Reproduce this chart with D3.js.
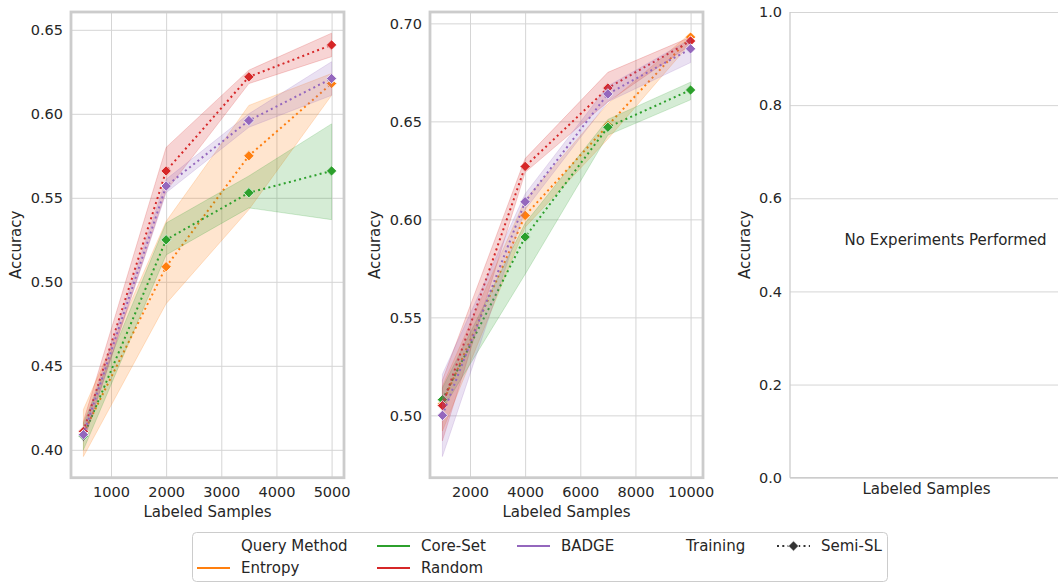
<!DOCTYPE html>
<head>
  <meta charset="utf-8">
  <script src="https://d3js.org/d3.v7.min.js"></script>
  <style>
    body { margin: 0; background: #fff; }
    text { font-family: "DejaVu Sans", sans-serif; fill: #262626; }
  </style>
</head>
<body>
<script>
// query methods, in hue order
var methods = ["Entropy", "Core-Set", "Random", "BADGE"];
var methodColors = ["#ff7f0e", "#2ca02c", "#d62728", "#9467bd"];

// left panel
var samplesA = [500, 2000, 3500, 5000];
var meanA = [
  [0.410, 0.509, 0.575, 0.618],
  [0.408, 0.525, 0.553, 0.566],
  [0.411, 0.566, 0.622, 0.641],
  [0.409, 0.557, 0.596, 0.621]
];
var lowA = [
  [0.396, 0.487, 0.543, 0.611],
  [0.400, 0.516, 0.544, 0.537],
  [0.405, 0.554, 0.618, 0.634],
  [0.405, 0.553, 0.592, 0.611]
];
var highA = [
  [0.424, 0.536, 0.605, 0.624],
  [0.416, 0.535, 0.563, 0.594],
  [0.417, 0.580, 0.626, 0.648],
  [0.413, 0.561, 0.600, 0.631]
];
var xTicksA = [1000, 2000, 3000, 4000, 5000];
var yTicksA = [0.40, 0.45, 0.50, 0.55, 0.60, 0.65];

// middle panel
var samplesB = [1000, 4000, 7000, 10000];
var meanB = [
  [0.506, 0.602, 0.648, 0.693],
  [0.508, 0.591, 0.647, 0.666],
  [0.505, 0.627, 0.667, 0.691],
  [0.500, 0.609, 0.664, 0.687]
];
var lowB = [
  [0.492, 0.596, 0.641, 0.690],
  [0.503, 0.572, 0.643, 0.661],
  [0.487, 0.624, 0.660, 0.689],
  [0.479, 0.605, 0.660, 0.680]
];
var highB = [
  [0.515, 0.610, 0.659, 0.695],
  [0.514, 0.598, 0.651, 0.670],
  [0.518, 0.631, 0.675, 0.693],
  [0.521, 0.613, 0.668, 0.692]
];
var xTicksB = [2000, 4000, 6000, 8000, 10000];
var yTicksB = [0.50, 0.55, 0.60, 0.65, 0.70];

// right panel (empty)
var yTicksC = [0.0, 0.2, 0.4, 0.6, 0.8, 1.0];
var emptyText = "No Experiments Performed";

var outerWidth = 1058, outerHeight = 582;
var plotTop = 12, plotBottom = 477.7, panelWidth = 273;
var gridColor = "#d5d5d5", spineColor = "#cccccc";

var svg = d3.select("body").append("svg")
  .attr("width", outerWidth)
  .attr("height", outerHeight);

svg.append("rect").attr("width", outerWidth).attr("height", outerHeight).attr("fill", "#fff");

// pad a domain by 5% on each side like matplotlib
function padded(values) {
  var ext = d3.extent(values), pad = (ext[1] - ext[0]) * 0.05;
  return [ext[0] - pad, ext[1] + pad];
}

var diamond = "M0,-5.2L5.2,0L0,5.2L-5.2,0Z";

function drawPanel(left, xs, means, lows, highs, xTicks, yTicks) {
  var g = svg.append("g").attr("transform", "translate(" + left + ",0)");
  var h = plotBottom - plotTop;

  var x = d3.scaleLinear().domain(padded(xs)).range([0, panelWidth]);
  var y = d3.scaleLinear().domain(padded(d3.merge(lows.concat(highs)))).range([plotBottom, plotTop]);

  // grid + tick labels
  var xAxis = g.append("g").attr("transform", "translate(0," + plotBottom + ")")
    .call(d3.axisBottom(x).tickValues(xTicks).tickSize(-h).tickPadding(9).tickFormat(d3.format("d")));
  var yAxis = g.append("g")
    .call(d3.axisLeft(y).tickValues(yTicks).tickSize(-panelWidth).tickPadding(8).tickFormat(d3.format(".2f")));
  [xAxis, yAxis].forEach(function(a) {
    a.select(".domain").remove();
    a.selectAll("line").attr("stroke", gridColor).attr("stroke-width", 1);
    a.selectAll("text").style("font-size", "14.5px").attr("fill", "#262626");
  });

  var line = d3.line().x(function(d) { return x(d[0]); }).y(function(d) { return y(d[1]); });
  var area = d3.area()
    .x(function(d) { return x(d[0]); })
    .y0(function(d) { return y(d[1]); })
    .y1(function(d) { return y(d[2]); });

  methods.forEach(function(m, i) {
    var pts = xs.map(function(s, j) { return [s, means[i][j]]; });
    var band = xs.map(function(s, j) { return [s, lows[i][j], highs[i][j]]; });
    g.append("path").datum(pts).attr("d", line)
      .attr("fill", "none").attr("stroke", methodColors[i])
      .attr("stroke-width", 2).attr("stroke-dasharray", "2,3.3");
    g.selectAll(null).data(pts).enter().append("path")
      .attr("d", diamond)
      .attr("transform", function(d) { return "translate(" + x(d[0]) + "," + y(d[1]) + ")"; })
      .attr("fill", methodColors[i]).attr("stroke", "#fff").attr("stroke-width", 1);
    g.append("path").datum(band).attr("d", area)
      .attr("fill", methodColors[i]).attr("fill-opacity", 0.2)
      .attr("stroke", methodColors[i]).attr("stroke-opacity", 0.2).attr("stroke-width", 1);
  });

  // spines box
  g.append("rect").attr("x", 0).attr("y", plotTop).attr("width", panelWidth).attr("height", h)
    .attr("fill", "none").attr("stroke", spineColor).attr("stroke-width", 2.8);

  g.append("text").attr("x", panelWidth / 2).attr("y", 517)
    .attr("text-anchor", "middle").style("font-size", "15px").text("Labeled Samples");
  g.append("text").attr("transform", "translate(-55," + (plotTop + h / 2) + ") rotate(-90)")
    .attr("text-anchor", "middle").attr("dominant-baseline", "central")
    .style("font-size", "15px").text("Accuracy");
}

drawPanel(71, samplesA, meanA, lowA, highA, xTicksA, yTicksA);
drawPanel(430, samplesB, meanB, lowB, highB, xTicksB, yTicksB);

// right panel without experiments
(function() {
  var left = 790, h = plotBottom - plotTop;
  var g = svg.append("g").attr("transform", "translate(" + left + ",0)");
  var x = d3.scaleLinear().domain([0, 1]).range([0, panelWidth]);
  var y = d3.scaleLinear().domain([0, 1]).range([plotBottom, plotTop]);
  var yAxis = g.append("g")
    .call(d3.axisLeft(y).tickValues(yTicksC).tickSize(-panelWidth).tickPadding(8).tickFormat(d3.format(".1f")));
  yAxis.select(".domain").remove();
  yAxis.selectAll("line").attr("stroke", gridColor).attr("stroke-width", 1);
  yAxis.selectAll("text").style("font-size", "14.5px").attr("fill", "#262626");

  g.append("line").attr("x1", 0).attr("x2", 0).attr("y1", plotTop).attr("y2", plotBottom)
    .attr("stroke", spineColor).attr("stroke-width", 1.3);
  g.append("line").attr("x1", 0).attr("x2", panelWidth).attr("y1", plotBottom).attr("y2", plotBottom)
    .attr("stroke", spineColor).attr("stroke-width", 1.3);

  g.append("text").attr("x", x(0.2)).attr("y", y(0.5))
    .style("font-size", "15px").text(emptyText);
  g.append("text").attr("x", panelWidth / 2).attr("y", 494)
    .attr("text-anchor", "middle").style("font-size", "15px").text("Labeled Samples");
  g.append("text").attr("transform", "translate(-45.5," + (plotTop + h / 2) + ") rotate(-90)")
    .attr("text-anchor", "middle").attr("dominant-baseline", "central")
    .style("font-size", "15px").text("Accuracy");
})();

// legend
var legendItems = [
  { label: "Query Method", col: 0, row: 0 },
  { label: methods[0], col: 0, row: 1, color: methodColors[0] },
  { label: methods[1], col: 1, row: 0, color: methodColors[1] },
  { label: methods[2], col: 1, row: 1, color: methodColors[2] },
  { label: methods[3], col: 2, row: 0, color: methodColors[3] },
  { label: "Training", col: 3, row: 0 },
  { label: "Semi-SL", col: 4, row: 0, color: "#333333", marker: true }
];
var colX = [241, 421, 561, 686, 821];
var rowY = [546, 568];

var legend = svg.append("g");
legend.append("rect").attr("x", 192.5).attr("y", 532.5).attr("width", 695).attr("height", 49)
  .attr("rx", 4).attr("fill", "#fff").attr("fill-opacity", 0.8)
  .attr("stroke", "#cccccc").attr("stroke-width", 1);

legendItems.forEach(function(it) {
  var tx = colX[it.col], ty = rowY[it.row];
  if (it.color && !it.marker) {
    legend.append("line").attr("x1", tx - 44).attr("x2", tx - 11).attr("y1", ty).attr("y2", ty)
      .attr("stroke", it.color).attr("stroke-width", 2);
  }
  if (it.marker) {
    legend.append("line").attr("x1", tx - 44).attr("x2", tx - 11).attr("y1", ty).attr("y2", ty)
      .attr("stroke", it.color).attr("stroke-width", 2).attr("stroke-dasharray", "2,3.3");
    legend.append("path").attr("d", diamond)
      .attr("transform", "translate(" + (tx - 27.5) + "," + ty + ")")
      .attr("fill", it.color).attr("stroke", "#fff").attr("stroke-width", 1);
  }
  legend.append("text").attr("x", tx).attr("y", ty).attr("dominant-baseline", "central")
    .style("font-size", "15px").text(it.label);
});
</script>
</body>
